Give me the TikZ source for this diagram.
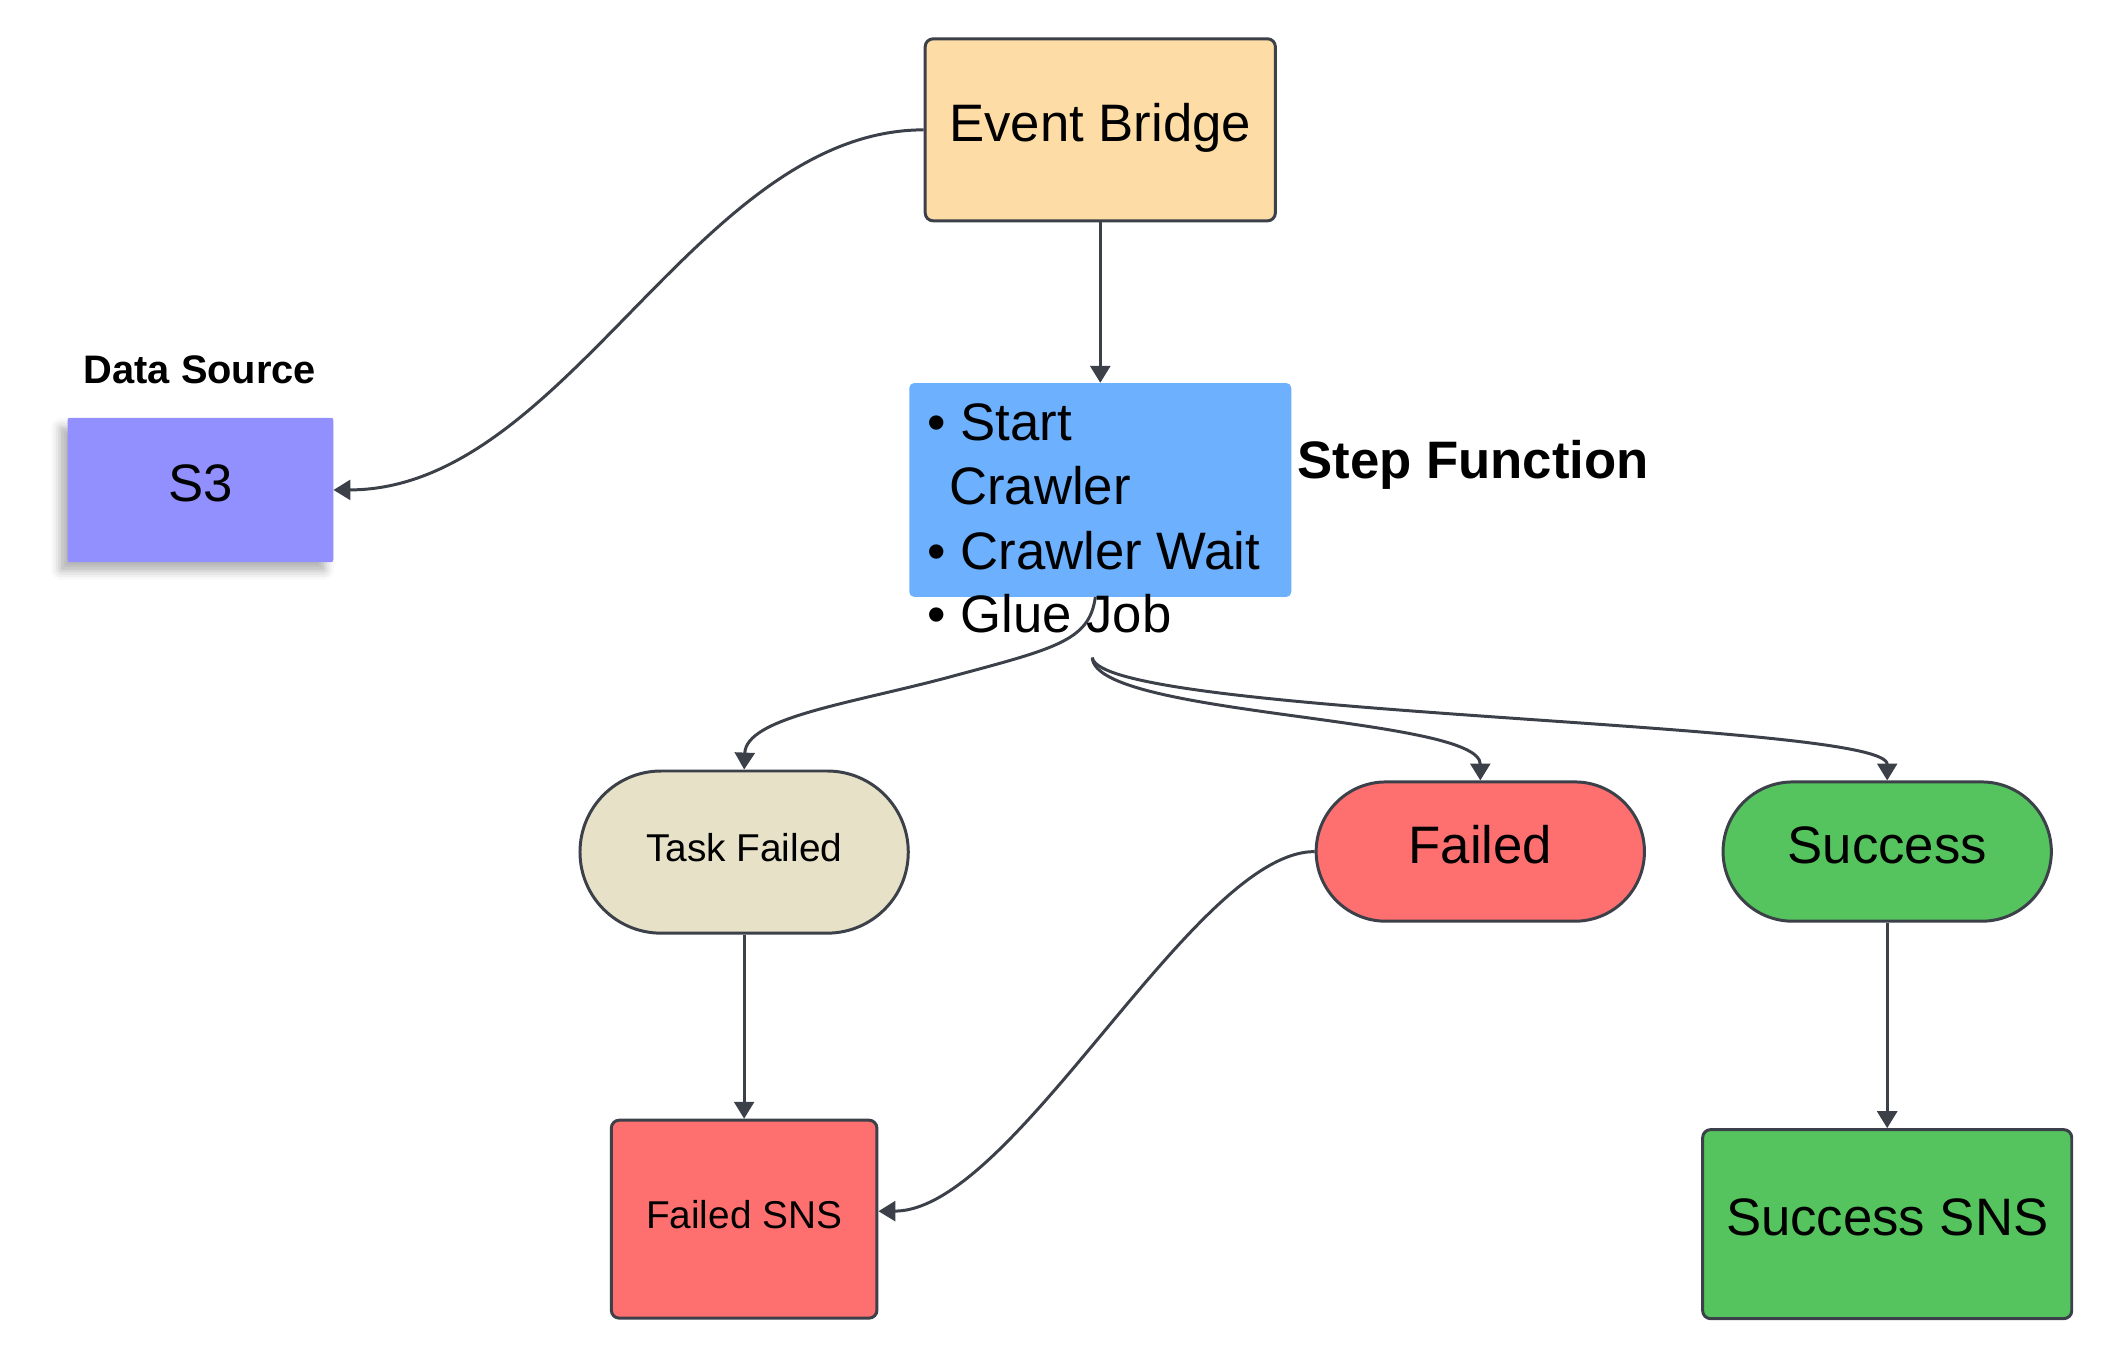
\documentclass[tikz,border=0pt]{standalone}
\usepackage{fontspec}
\setmainfont{Liberation Sans}
\usetikzlibrary{arrows.meta,shapes.misc,shadows.blur}
\definecolor{ebfill}{HTML}{FEDCA6}
\definecolor{sfblue}{HTML}{6CB0FE}
\definecolor{sthree}{HTML}{9290FE}
\definecolor{beige}{HTML}{E7E1C8}
\definecolor{redfill}{HTML}{FE6F6F}
\definecolor{greenfill}{HTML}{55C45E}
\definecolor{edgec}{HTML}{3B4049}
\begin{document}
\begin{tikzpicture}[x=1pt,y=-1pt,
  box/.style={draw=edgec, line width=3pt, rounded corners=8pt, inner sep=0pt},
  pill/.style={draw=edgec, line width=3pt, rounded rectangle, inner sep=0pt},
  conn/.style={draw=edgec, line width=3pt, -{Triangle[length=17pt,width=20pt]}},
  big/.style={font=\fontsize{53}{64}\selectfont, text depth=14pt},
  small/.style={font=\fontsize{39}{47}\selectfont, text depth=10pt},
  line/.style={font=\fontsize{53}{64}\selectfont, anchor=base west, inner sep=0pt},
]
\useasboundingbox (0,0) rectangle (2125,1368);

\node[box, fill=ebfill, minimum width=352pt, minimum height=183pt, big] (eb) at (1106,130.5) {Event Bridge};
\node[fill=sfblue, rounded corners=5pt, minimum width=384pt, minimum height=215pt, inner sep=0pt] (sf) at (1106,492.5) {};
\node[fill=sthree, rounded corners=2pt, minimum width=267pt, minimum height=145pt, inner sep=0pt,
      blur shadow={shadow xshift=-8pt, shadow yshift=-9pt, shadow blur radius=9pt, shadow opacity=30}, big] (s3) at (201.5,492.5) {S3};
\node[pill, fill=beige, minimum width=330pt, minimum height=163pt, small] (tf) at (748,856.5) {Task Failed};
\node[pill, fill=redfill, minimum width=330pt, minimum height=140pt, big] (fl) at (1488,856) {Failed};
\node[pill, fill=greenfill, minimum width=330pt, minimum height=140pt, big] (sc) at (1897,856) {Success};
\node[box, fill=redfill, minimum width=267pt, minimum height=199pt, small] (fsns) at (748,1225.5) {Failed SNS};
\node[box, fill=greenfill, minimum width=371pt, minimum height=190pt, big] (ssns) at (1897,1230.5) {Success SNS};

\node[line] (l1) at (932,443) {• Start};
\node[line] (l2) at (954,507) {Crawler};
\node[line] (l3) at (932,572) {• Crawler Wait};
\node[line] (l4) at (932,636) {• Glue Job};

\node[font=\bfseries\fontsize{53}{64}\selectfont, anchor=base west, inner sep=0pt] (sflabel) at (1304,481) {Step Function};
\node[font=\bfseries\fontsize{40}{48}\selectfont, anchor=base, inner sep=0pt] (dslabel) at (201,385) {Data Source};

\coordinate (sfout) at (1098,661);

\draw[conn] (eb.south) -- (sf.north);
\draw[conn] (eb.west) .. controls (700,131) and (570,492) .. (s3.east);
\draw[conn] ([xshift=-5pt]sf.south) .. controls (1095,645) and (1060,652) .. (949,682)
            .. controls (850,708) and (750,722) .. (tf.north);
\draw[conn] (sfout) .. controls (1100,720) and (1488,720) .. (fl.north);
\draw[conn] (sfout) .. controls (1105,720) and (1897,725) .. (sc.north);
\draw[conn] (fl.west) .. controls (1200,856) and (1020,1217) .. ([yshift=8pt]fsns.east);
\draw[conn] (tf.south) -- (fsns.north);
\draw[conn] (sc.south) -- (ssns.north);
\end{tikzpicture}
\end{document}
